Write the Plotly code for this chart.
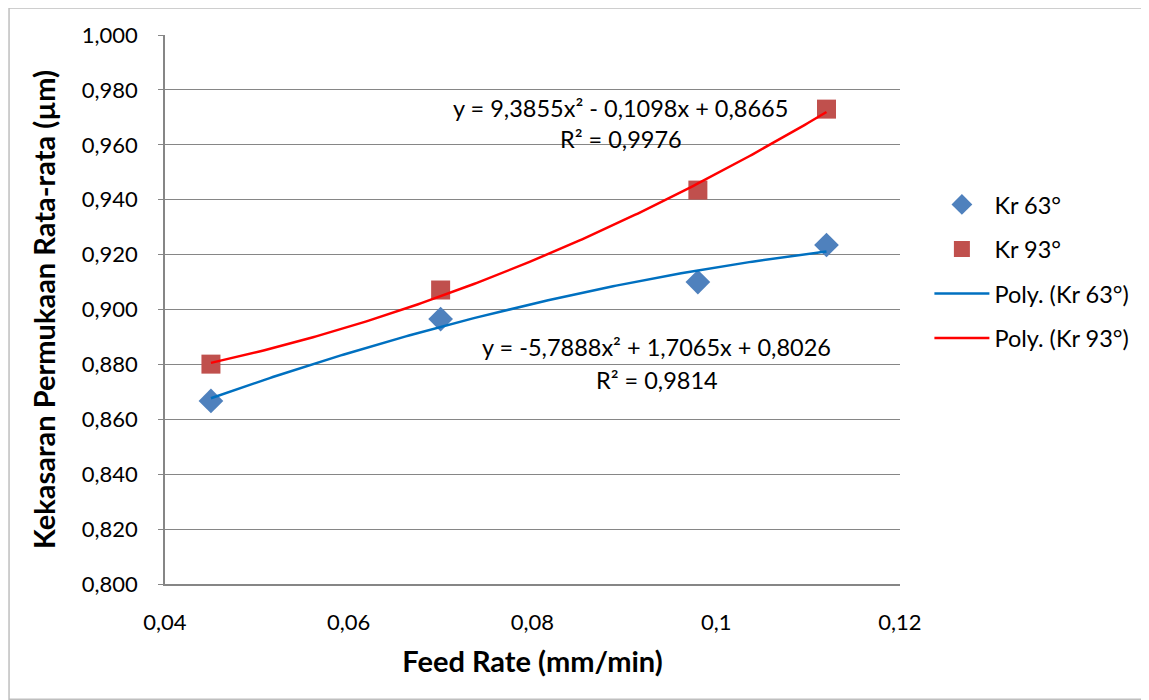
import numpy as np
import plotly.graph_objects as go

# ---- data ----
feed_rate = [0.045, 0.070, 0.098, 0.112]
kr63 = [0.8667, 0.8965, 0.9100, 0.9235]
kr93 = [0.8801, 0.9071, 0.9435, 0.9730]

# trendline coefficients as printed on the chart (a, b, c for y = a x^2 + b x + c)
coef63 = [-5.7888, 1.7065, 0.8026]
coef93 = [9.3855, -0.1098, 0.8665]
eq63 = ["y = -5,7888x² + 1,7065x + 0,8026", "R² = 0,9814"]
eq93 = ["y = 9,3855x² - 0,1098x + 0,8665", "R² = 0,9976"]

y_ticks = [0.80, 0.82, 0.84, 0.86, 0.88, 0.90, 0.92, 0.94, 0.96, 0.98, 1.00]
x_ticks = [0.04, 0.06, 0.08, 0.10, 0.12]

FONT = "Lato"

xs = np.linspace(min(feed_rate), max(feed_rate), 200)
fit63 = np.polyval(coef63, xs)
fit93 = np.polyval(coef93, xs)

fig = go.Figure()
fig.add_trace(go.Scatter(x=feed_rate, y=kr63, mode="markers", name="Kr 63°", legendgroup="a",
                         marker=dict(symbol="diamond", size=19, color="#4F81BD")))
fig.add_trace(go.Scatter(x=feed_rate, y=kr93, mode="markers", name="Kr 93°", legendgroup="b",
                         marker=dict(symbol="square", size=19, color="#C0504D")))
fig.add_trace(go.Scatter(x=xs, y=fit63, mode="lines", name="Poly. (Kr 63°)", legendgroup="c",
                         line=dict(color="#0070C0", width=2.5)))
fig.add_trace(go.Scatter(x=xs, y=fit93, mode="lines", name="Poly. (Kr 93°)", legendgroup="d",
                         line=dict(color="#FF0000", width=2.5)))

ann_font = dict(family=FONT, size=23.5, color="#000000")
annotations = [
    dict(x=0.0896, y=0.9734, text=eq93[0]),
    dict(x=0.0896, y=0.9621, text=eq93[1]),
    dict(x=0.09355, y=0.8862, text=eq63[0]),
    dict(x=0.09355, y=0.8745, text=eq63[1]),
]
for a in annotations:
    a.update(xref="x", yref="y", showarrow=False, font=ann_font,
             xanchor="center", yanchor="middle")

# page adds an 8px body margin; plot area targets pixels x 165-900, y 35-584
fig.update_layout(
    width=1141, height=692,
    margin=dict(l=157, r=249, t=27, b=116),
    paper_bgcolor="white", plot_bgcolor="white",
    separators=",.",
    font=dict(family=FONT, size=22, color="#000000"),
    annotations=annotations,
    legend=dict(x=1.04, y=0.731, xanchor="left", yanchor="top",
                font=dict(family=FONT, size=23.5), bgcolor="rgba(0,0,0,0)",
                tracegroupgap=11, itemwidth=55, traceorder="grouped"),
    shapes=[dict(type="rect", xref="paper", yref="paper",
                 x0=-0.2122, x1=1.3365, y0=-0.21, y1=1.049,
                 line=dict(color="#BFBFBF", width=1.5), fillcolor="rgba(0,0,0,0)",
                 layer="below")],
)
fig.update_xaxes(range=[0.04, 0.12], tickvals=x_ticks, showgrid=False,
                 showline=True, linecolor="#868686", linewidth=1.5,
                 ticks="", zeroline=False, ticklabelstandoff=18,
                 title=dict(text="<b>Feed Rate (mm/min)</b>",
                            font=dict(family=FONT, size=29), standoff=18))
fig.update_yaxes(range=[0.8, 1.0], tickvals=y_ticks, tickformat=".3f",
                 showgrid=True, gridcolor="#868686", gridwidth=1.2,
                 showline=True, linecolor="#868686", linewidth=1.5,
                 ticks="outside", ticklen=5, tickcolor="#868686",
                 zeroline=False, ticklabelstandoff=16,
                 title=dict(text="<b>Kekasaran Permukaan Rata-rata (µm)</b>",
                            font=dict(family=FONT, size=29), standoff=18))

fig.write_html("out.html")
